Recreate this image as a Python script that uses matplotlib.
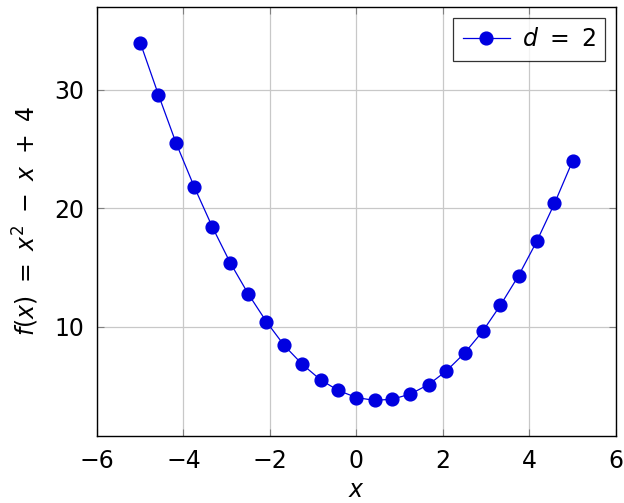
import matplotlib
matplotlib.use('Agg')
import matplotlib.pyplot as plt

# points
x_vals = [-5.0, -4.58, -4.17, -3.75, -3.33, -2.92, -2.5, -2.08, -1.67, -1.25, -0.83, -0.42,
          0.0, 0.42, 0.83, 1.25, 1.67, 2.08, 2.5, 2.92, 3.33, 3.75, 4.17, 4.58, 5.0]
y_vals = [34.0, 29.6, 25.5, 21.8, 18.4, 15.4, 12.75, 10.4, 8.4, 6.8, 5.5, 4.6,
          4.0, 3.76, 3.86, 4.3, 5.1, 6.25, 7.75, 9.6, 11.8, 14.3, 17.2, 20.4, 24.0]
x_ticks = [-6, -4, -2, 0, 2, 4, 6]
y_ticks = [10, 20, 30]
series_label = r'$d\ =\ 2$'

plt.rcParams['font.family'] = 'DejaVu Sans'
plt.rcParams['mathtext.fontset'] = 'dejavusans'

fig = plt.figure(figsize=(6.24, 5.03), dpi=100)
fig.patch.set_facecolor('white')

ax = fig.add_axes([0.1554, 0.1332, 0.8316, 0.8528])

ax.plot(x_vals, y_vals, color='#0000e0', lw=0.9, marker='o', markersize=9.2,
        label=series_label, zorder=3)

ax.set_xlim(-6, 6)
ax.set_ylim(0.75, 37.0)
ax.set_xticks(x_ticks)
ax.set_yticks(y_ticks)
ax.set_xticklabels([str(t).replace('-', '\u2212') for t in x_ticks])
ax.grid(True, color='#c8c8c8', lw=0.9)
ax.tick_params(direction='in', top=True, right=True, length=5, color='#808080',
               labelsize=17, pad=9)
for s in ax.spines.values():
    s.set_linewidth(1.0)

ax.set_xlabel(r'$x$', fontsize=17, labelpad=4)
ax.set_ylabel(r'$f(x)\ =\ x^2\ -\ x\ +\ 4$', fontsize=17, labelpad=10)

leg = ax.legend(loc='upper right', fontsize=17, frameon=True, fancybox=False,
                edgecolor='black', handlelength=2.0, borderpad=0.4,
                handletextpad=0.5, borderaxespad=0.45)
leg.get_frame().set_linewidth(0.9)

fig.savefig('out.png', dpi=100)
